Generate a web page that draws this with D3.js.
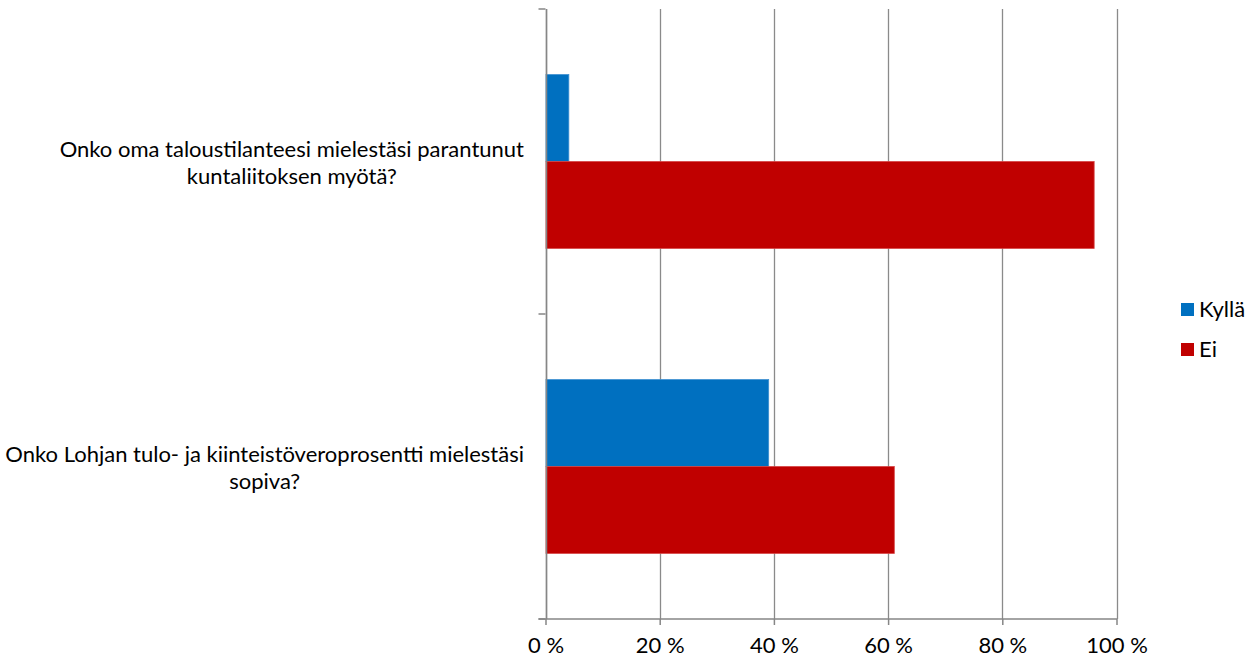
<!DOCTYPE html>
<html>
<head>
<meta charset="utf-8">
<script src="https://cdn.jsdelivr.net/npm/d3@7"></script>
<style>
  html, body { margin: 0; padding: 0; background: #fff; }
  svg { display: block; }
  text { font-family: Lato, "Open Sans", sans-serif; fill: #000; }
</style>
</head>
<body>
<svg id="chart" width="1255" height="661"></svg>
<script>
const categories = [
  "Onko oma taloustilanteesi mielestäsi parantunut kuntaliitoksen myötä?",
  "Onko Lohjan tulo- ja kiinteistöveroprosentti mielestäsi sopiva?"
];
const seriesNames = ["Kyllä", "Ei"];
const kyllaValues = [4, 39];
const eiValues = [96, 61];
const xTicks = [0, 20, 40, 60, 80, 100];
const colors = ["#0070C0", "#C00000"];
const strokes = ["#3d8fd0", "#d64545"];

const svg = d3.select("#chart");
const plot = { left: 545.5, right: 1116.5, top: 9, bottom: 619 };
const fontSize = 22;

const x = d3.scaleLinear().domain([0, 100]).range([plot.left, plot.right]);
const y0 = d3.scaleBand().domain(categories).range([plot.top, plot.bottom])
  .paddingInner(0.43).paddingOuter(0.215);
const y1 = d3.scaleBand().domain(seriesNames).range([0, y0.bandwidth()]);

const seriesValues = [kyllaValues, eiValues];
const data = categories.map((c, i) => ({
  cat: c,
  vals: seriesNames.map((s, j) => ({ s, j, v: seriesValues[j][i] }))
}));

// gridlines
svg.append("g").selectAll("line").data(xTicks).join("line")
  .attr("x1", d => Math.round(x(d)) + 0.5).attr("x2", d => Math.round(x(d)) + 0.5)
  .attr("y1", plot.top).attr("y2", plot.bottom)
  .attr("stroke", "#8a8a8a").attr("stroke-width", 1.3);

// bars
const groups = svg.append("g").selectAll("g").data(data).join("g")
  .attr("transform", d => `translate(0,${y0(d.cat)})`);
groups.selectAll("rect").data(d => d.vals).join("rect")
  .attr("x", x(0) + 0.5)
  .attr("y", d => y1(d.s))
  .attr("width", d => x(d.v) - x(0))
  .attr("height", y1.bandwidth())
  .attr("fill", d => colors[d.j])
  .attr("stroke", d => strokes[d.j])
  .attr("stroke-width", 0.8);

// vertical axis line + ticks
const axisColor = "#868686";
svg.append("line")
  .attr("x1", Math.round(x(0)) + 0.5).attr("x2", Math.round(x(0)) + 0.5)
  .attr("y1", plot.top).attr("y2", plot.bottom)
  .attr("stroke", axisColor).attr("stroke-width", 1.5);
const bandEdges = [plot.top, plot.top + y0.step(), plot.bottom];
svg.append("g").selectAll("line").data(bandEdges).join("line")
  .attr("x1", x(0) - 7).attr("x2", x(0))
  .attr("y1", d => d).attr("y2", d => d)
  .attr("stroke", axisColor).attr("stroke-width", 1.5);

// bottom axis
const xAxis = d3.axisBottom(x).tickValues(xTicks).tickFormat(d => d + " %")
  .tickSize(6).tickSizeOuter(0).tickPadding(12);
const gx = svg.append("g").attr("transform", `translate(0,${plot.bottom})`).call(xAxis);
gx.select(".domain").remove();
gx.selectAll(".tick line").attr("stroke", axisColor).attr("stroke-width", 1.5);
gx.selectAll(".tick text").attr("font-size", fontSize).attr("font-family", "Lato, sans-serif").attr("fill", "#000");
svg.append("line")
  .attr("x1", x(0) - 7).attr("x2", plot.right + 0.5)
  .attr("y1", plot.bottom).attr("y2", plot.bottom)
  .attr("stroke", axisColor).attr("stroke-width", 1.5);

// category labels (wrapped, centered lines, right edge at labelRight)
const labelRight = 524;
const maxLabelWidth = 540;
const measure = svg.append("text").attr("font-size", fontSize).attr("visibility", "hidden");
function textWidth(s) { measure.text(s); return measure.node().getComputedTextLength(); }
function wrap(str) {
  const words = str.split(" ");
  const lines = [];
  let cur = "";
  words.forEach(w => {
    const t = cur ? cur + " " + w : w;
    if (textWidth(t) > maxLabelWidth && cur) { lines.push(cur); cur = w; }
    else cur = t;
  });
  if (cur) lines.push(cur);
  return lines;
}
const lineH = 27;
categories.forEach(c => {
  const lines = wrap(c);
  const maxW = d3.max(lines, textWidth);
  const cx = labelRight - maxW / 2;
  const mid = y0(c) + y0.bandwidth() / 2;
  const firstBase = mid - 5 - ((lines.length - 2) * lineH) / 2;
  const t = svg.append("text").attr("font-size", fontSize).attr("text-anchor", "middle");
  lines.forEach((ln, i) => {
    t.append("tspan").attr("x", cx).attr("y", firstBase + i * lineH).text(ln);
  });
});
measure.remove();

// legend
const legend = svg.append("g").selectAll("g").data(seriesNames).join("g")
  .attr("transform", (d, i) => `translate(1181,${303 + i * 40})`);
legend.append("rect").attr("width", 13).attr("height", 13).attr("fill", (d, i) => colors[i]);
legend.append("text").attr("x", 18).attr("y", 14).attr("font-size", fontSize).text(d => d);
</script>
</body>
</html>
